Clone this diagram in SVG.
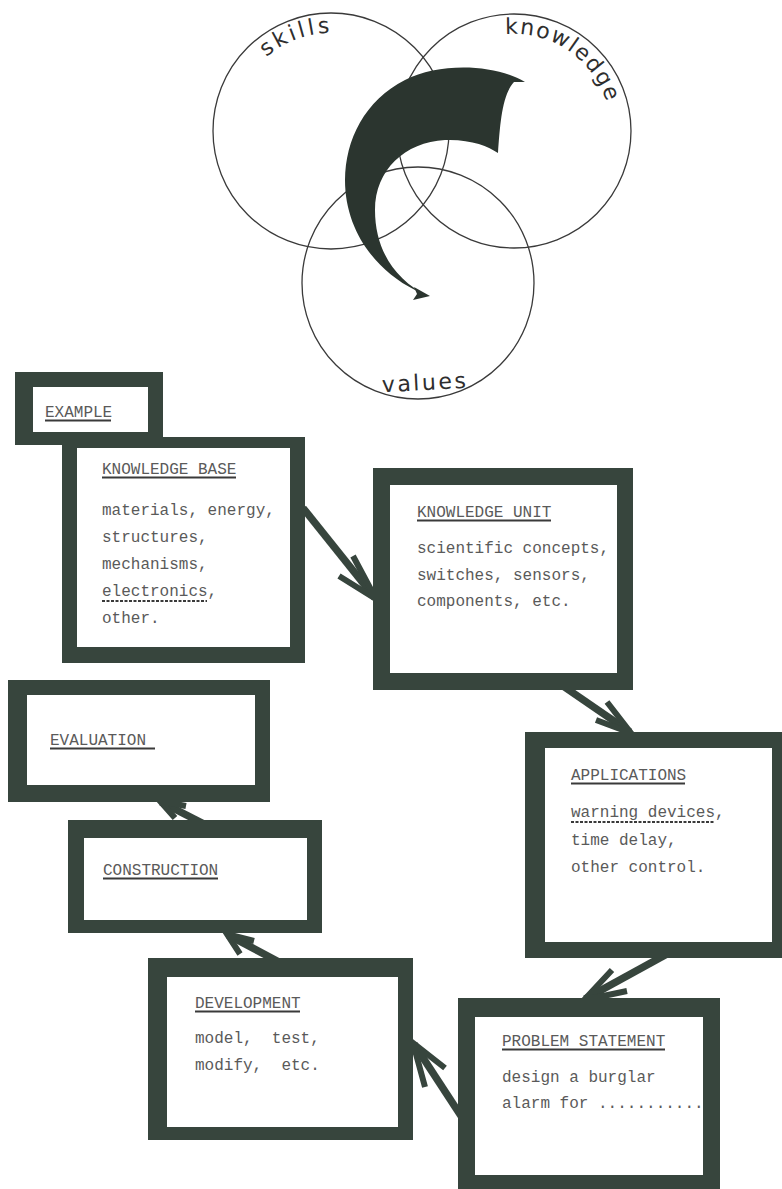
<svg xmlns="http://www.w3.org/2000/svg" width="782" height="1189" viewBox="0 0 782 1189">
<style>
.bg{fill:#ffffff}
.circ{fill:none;stroke:#3a3a3a;stroke-width:1.3}
.frame{fill:#37453d}
.inner{fill:#ffffff}
.lbl{font-family:"DejaVu Sans","Liberation Sans",sans-serif;font-size:22px;fill:#2e2e2e;letter-spacing:3px}
.t{font-family:"Liberation Mono","DejaVu Sans Mono",monospace;font-size:16px;fill:#5a5a5a}
.ul{stroke:#3a3a3a;stroke-width:2}
.dul{stroke:#3a3a3a;stroke-width:2;stroke-dasharray:3 1.5}
.arr{fill:none;stroke:#37453d;stroke-width:7.5;stroke-linejoin:miter;stroke-linecap:butt}
.head{fill:none;stroke:#37453d;stroke-width:6;stroke-linejoin:miter;stroke-linecap:butt}
.blob{fill:#2b352f}
</style>
<defs>
<path id="pSkills" d="M 255.9 68 A 98 98 0 0 1 380 46.1"/>
<path id="pKnow" d="M 480.8 39.8 A 97 97 0 0 1 609.5 114.2"/>
</defs>
<rect class="bg" x="0" y="0" width="782" height="1189"/>

<g id="venn">
<circle class="circ" cx="331" cy="131" r="118"/>
<circle class="circ" cx="514" cy="131" r="117"/>
<circle class="circ" cx="418" cy="283" r="116"/>
<text class="lbl"><textPath href="#pSkills" startOffset="15">skills</textPath></text>
<text class="lbl" style="letter-spacing:1.5px"><textPath href="#pKnow" startOffset="25">knowledge</textPath></text>
<text class="lbl" style="letter-spacing:2.5px" x="382" y="390" transform="rotate(-3 425 388)">values</text>
<path class="blob" d="M 525 82 C 495 64, 440 62, 405 80 C 365 100, 345 140, 345 180 C 345 230, 375 270, 415 290 L 428 296 C 395 280, 375 250, 375 210 C 375 170, 405 142, 445 140 C 470 139, 488 146, 498 153 C 500 125, 502 95, 514 82 Z"/>
<path class="blob" d="M 430 296 L 414 287 L 417 294 L 413 300 Z"/>
</g>

<g id="connectors">
<path class="arr" d="M 303 508 L 375 598"/>
<path class="head" d="M 353 556 L 376 599 L 339 576"/>
<path class="arr" d="M 563 686 L 630 732"/>
<path class="head" d="M 607 702 L 631 733 L 596 720"/>
<path class="arr" d="M 667 954 L 585 999"/>
<path class="head" d="M 627 991 L 584 1000 L 612 970"/>
<path class="arr" d="M 465 1122 L 414 1044"/>
<path class="head" d="M 445 1068 L 413 1043 L 425 1087"/>
<path class="arr" d="M 279 962 L 228 935"/>
<path class="head" d="M 254 941 L 227 934 L 240 954"/>
<path class="arr" d="M 204 824 L 161 802"/>
<path class="head" d="M 186 806 L 160 801 L 175 818"/>
</g>

<g id="kb">
<rect class="frame" x="62" y="437" width="243" height="226"/>
<rect class="inner" x="77" y="448" width="213" height="199"/>
<text class="t" x="102" y="474">KNOWLEDGE BASE</text>
<line class="ul" x1="102" y1="477.5" x2="236" y2="477.5"/>
<text class="t" x="102" y="515">materials, energy,</text>
<text class="t" x="102" y="542">structures,</text>
<text class="t" x="102" y="569">mechanisms,</text>
<text class="t" x="102" y="596">electronics,</text>
<line class="dul" x1="102" y1="601" x2="207" y2="601"/>
<text class="t" x="102" y="623">other.</text>
</g>

<g id="example">
<rect class="frame" x="15" y="372" width="148" height="73"/>
<rect class="inner" x="33" y="387" width="115" height="45"/>
<text class="t" x="45" y="417">EXAMPLE</text>
<line class="ul" x1="45" y1="420.5" x2="111" y2="420.5"/>
</g>

<g id="ku">
<rect class="frame" x="373" y="468" width="260" height="222"/>
<rect class="inner" x="390" y="485" width="227" height="188"/>
<text class="t" x="417" y="517">KNOWLEDGE UNIT</text>
<line class="ul" x1="417" y1="520.5" x2="551" y2="520.5"/>
<text class="t" x="417" y="553">scientific concepts,</text>
<text class="t" x="417" y="580">switches, sensors,</text>
<text class="t" x="417" y="606">components, etc.</text>
</g>

<g id="evaluation">
<rect class="frame" x="8" y="680" width="262" height="122"/>
<rect class="inner" x="27" y="695" width="228" height="90"/>
<text class="t" x="50" y="745">EVALUATION</text>
<line class="ul" x1="50" y1="748.5" x2="155" y2="748.5"/>
</g>

<g id="construction">
<rect class="frame" x="68" y="820" width="254" height="113"/>
<rect class="inner" x="84" y="838" width="223" height="82"/>
<text class="t" x="103" y="875">CONSTRUCTION</text>
<line class="ul" x1="103" y1="878.5" x2="218" y2="878.5"/>
</g>

<g id="applications">
<rect class="frame" x="525" y="732" width="260" height="226"/>
<rect class="inner" x="545" y="748" width="227" height="194"/>
<text class="t" x="571" y="780">APPLICATIONS</text>
<line class="ul" x1="571" y1="783.5" x2="685" y2="783.5"/>
<text class="t" x="571" y="817">warning devices,</text>
<line class="dul" x1="571" y1="822" x2="714" y2="822"/>
<text class="t" x="571" y="845">time delay,</text>
<text class="t" x="571" y="872">other control.</text>
</g>

<g id="development">
<rect class="frame" x="148" y="958" width="265" height="182"/>
<rect class="inner" x="167" y="977" width="231" height="150"/>
<text class="t" x="195" y="1008">DEVELOPMENT</text>
<line class="ul" x1="195" y1="1011.5" x2="300" y2="1011.5"/>
<text class="t" x="195" y="1043" xml:space="preserve">model,  test,</text>
<text class="t" x="195" y="1070" xml:space="preserve">modify,  etc.</text>
</g>

<g id="problem">
<rect class="frame" x="458" y="998" width="262" height="195"/>
<rect class="inner" x="475" y="1017" width="228" height="158"/>
<text class="t" x="502" y="1046">PROBLEM STATEMENT</text>
<line class="ul" x1="502" y1="1049.5" x2="665" y2="1049.5"/>
<text class="t" x="502" y="1082">design a burglar</text>
<text class="t" x="502" y="1108">alarm for ...........</text>
</g>
</svg>
